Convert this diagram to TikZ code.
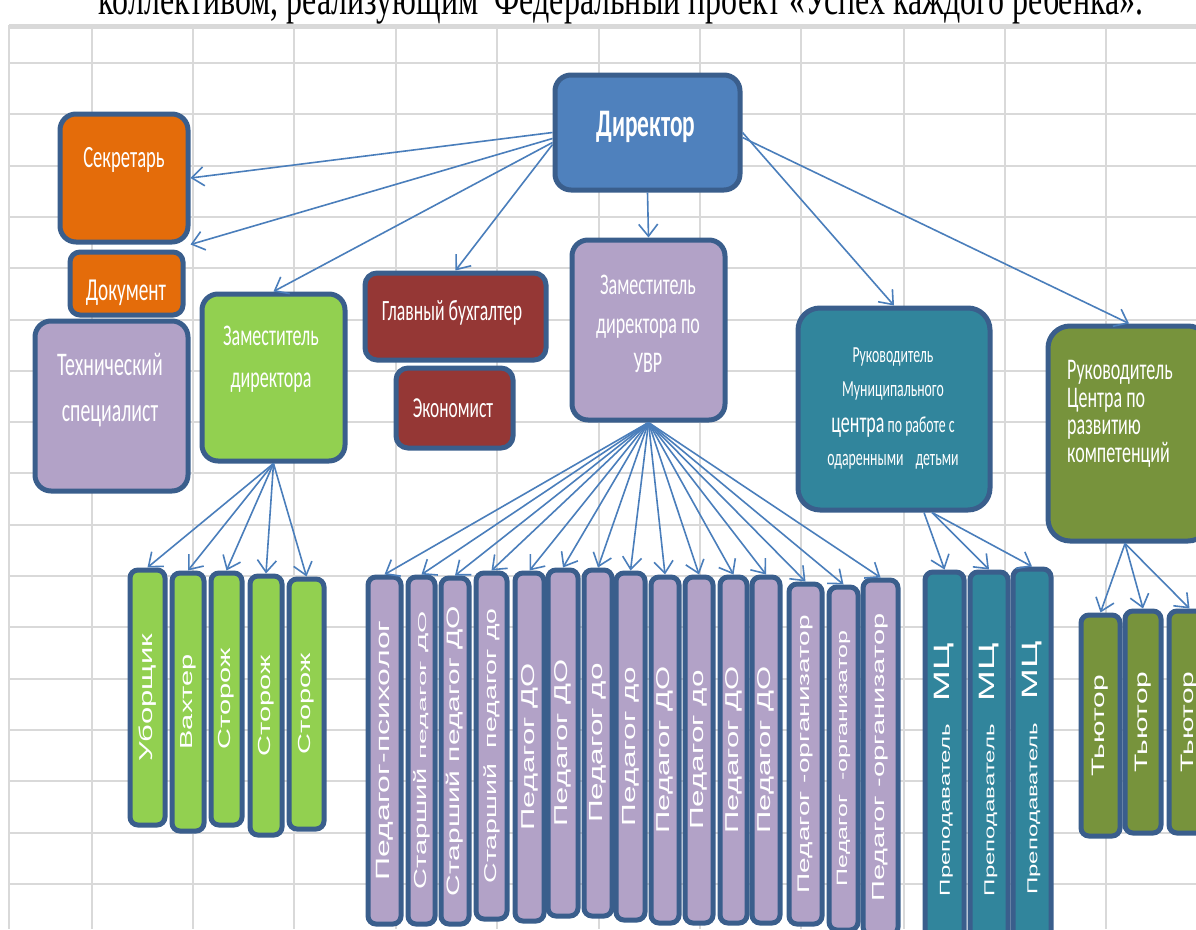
\documentclass[tikz,border=0pt]{standalone}
\usepackage{fontspec}
\setmainfont{Carlito}
\newfontfamily\cf[FakeStretch=0.6]{Carlito}
\newfontfamily\vf{Liberation Sans}
\newfontfamily\tf[FakeStretch=0.71]{Liberation Serif}
\usetikzlibrary{arrows.meta,fit}
\definecolor{bord}{HTML}{3A5E8C}
\definecolor{dirc}{HTML}{4F81BD}
\definecolor{orc}{HTML}{E46C0A}
\definecolor{purc}{HTML}{B2A2C7}
\definecolor{grc}{HTML}{92D050}
\definecolor{redc}{HTML}{953735}
\definecolor{tealc}{HTML}{31859C}
\definecolor{olc}{HTML}{77933C}
\definecolor{arrc}{HTML}{4A7EBB}
\definecolor{gridc}{HTML}{D9D9D9}
\newcommand\vlab[2]{\rotatebox{90}{\scalebox{1}[0.6]{\fontsize{#1}{#1}\selectfont\vf #2}}}
\tikzset{
  bigbox/.style={draw=bord,line width=5pt,rounded corners=16pt,inner sep=0pt},
  thinbox/.style={draw=bord,line width=5pt,rounded corners=8pt,inner sep=0pt},
  lab/.style={text=white,inner sep=0pt,align=center},
  vt/.style={text=white,inner sep=0pt},
  arr/.style={draw=arrc,line width=1.6pt,-{Straight Barb[length=12pt,width=19pt]}},
  gridline/.style={draw=gridc,line width=2pt}
}
\begin{document}
\begin{tikzpicture}[x=1pt,y=-1pt]
\useasboundingbox (0,0) rectangle (1196,929);
\fill[white] (0,0) rectangle (1196,929);
\node[font=\fontsize{45}{45}\selectfont\tf,anchor=base,inner sep=0pt] (title) at (621,14) {коллективом, реализующим \ Федеральный проект «Успех каждого ребенка».};
% grid
\foreach \x in {9,92,193,294,396,497,599,700,801,904,1005,1106}
  \draw[gridline] (\x,25) -- (\x,929);
\foreach \k in {0,...,16}
  \draw[gridline] (9,{63+51.3*\k}) -- (1196,{63+51.3*\k});
\draw[draw=gridc,line width=5pt] (9,26) -- (1196,26);
% top boxes
\node[bigbox,fill=dirc,fit={(555,75)(740,190)}] (dir) {};
\node[lab,font=\fontsize{39}{39}\selectfont\cf\bfseries] (dirT) at (646,127) {Директор};
\node[bigbox,fill=orc,fit={(60,114)(188,242)}] (sec) {};
\node[lab,font=\fontsize{31}{31}\selectfont\cf] (secT) at (124,160) {Секретарь};
\node[bigbox,rounded corners=10pt,fill=orc,fit={(70,252)(183,315)}] (doc) {};
\node[lab,font=\fontsize{32}{32}\selectfont\cf] (docT) at (126,293) {Документ};
\node[bigbox,fill=purc,fit={(35,321)(188,491)}] (tech) {};
\node[lab,font=\fontsize{33}{46}\selectfont\cf] (techT) at (110,390) {Технический\\специалист};
\node[bigbox,fill=grc,fit={(202,294)(345,461)}] (zam) {};
\node[lab,font=\fontsize{30}{42}\selectfont\cf] (zamT) at (271,359) {Заместитель\\директора};
\node[bigbox,rounded corners=12pt,fill=redc,fit={(365,273)(546,360)}] (glav) {};
\node[lab,font=\fontsize{29.5}{29.5}\selectfont\cf] (glavT) at (452,313) {Главный бухгалтер};
\node[bigbox,rounded corners=12pt,fill=redc,fit={(396,368)(513,448)}] (econ) {};
\node[lab,font=\fontsize{29}{29}\selectfont\cf] (econT) at (453,408) {Экономист};
\node[bigbox,fill=purc,fit={(572,240)(725,420)}] (uvr) {};
\node[lab,font=\fontsize{30}{39}\selectfont\cf] (uvrT) at (648,324) {Заместитель\\директора по\\УВР};
\node[bigbox,rounded corners=22pt,fill=tealc,fit={(798,308)(990,510)}] (mc) {};
\node[lab,font=\fontsize{23}{33}\selectfont\cf] (mcT) at (893,409) {Руководитель\\Муниципального\\[4pt]{\fontsize{30}{30}\selectfont центра} по работе с\\одаренными\hspace{12pt}детьми};
\node[bigbox,rounded corners=22pt,fill=olc,fit={(1048,326)(1210,541)}] (crk) {};
\node[lab,align=left,anchor=west,font=\fontsize{30}{27.5}\selectfont\cf] (crkT) at (1067,414) {Руководитель\\Центра по\\развитию\\компетенций};
% green column
\node[thinbox,fill=grc,fit={(130,570)(165,825)}] (g1) {};
\node[vt] (g1T) at (g1.center) {\vlab{31}{Уборщик}};
\node[thinbox,fill=grc,fit={(172,573)(204,831)}] (g2) {};
\node[vt] (g2T) at (g2.center) {\vlab{29}{Вахтер}};
\node[thinbox,fill=grc,fit={(211,573)(242,825)}] (g3) {};
\node[vt] (g3T) at (g3.center) {\vlab{29}{Сторож}};
\node[thinbox,fill=grc,fit={(250,576)(282,835)}] (g4) {};
\node[vt] (g4T) at (g4.center) {\vlab{29}{Сторож}};
\node[thinbox,fill=grc,fit={(289,579)(324,829)}] (g5) {};
\node[vt] (g5T) at (g5.center) {\vlab{29}{Сторож}};
% purple column
\node[thinbox,fill=purc,fit={(368,577)(401,924)}] (p1) {};
\node[vt] (p1T) at (p1.center) {\vlab{32}{Педагог-психолог}};
\node[thinbox,fill=purc,fit={(408,577)(435,924)}] (p2) {};
\node[vt] (p2T) at (p2.center) {\vlab{29}{Старший \scalebox{1.5}[1]{\fontsize{19}{19}\selectfont педагог ДО}}};
\node[thinbox,fill=purc,fit={(441,578)(469,924)}] (p3) {};
\node[vt] (p3T) at (p3.center) {\vlab{30}{Старший педагог ДО}};
\node[thinbox,fill=purc,fit={(476,573)(507,919)}] (p4) {};
\node[vt] (p4T) at (p4.center) {\vlab{28.5}{Старший \ педагог до}};
\node[thinbox,fill=purc,fit={(515,573)(544,921)}] (p5) {};
\node[vt] (p5T) at (p5.center) {\vlab{31}{Педагог ДО}};
\node[thinbox,fill=purc,fit={(548,570)(578,916)}] (p6) {};
\node[vt] (p6T) at (p6.center) {\vlab{31}{Педагог ДО}};
\node[thinbox,fill=purc,fit={(584,570)(612,916)}] (p7) {};
\node[vt] (p7T) at (p7.center) {\vlab{31.5}{Педагог до}};
\node[thinbox,fill=purc,fit={(616,573)(645,920)}] (p8) {};
\node[vt] (p8T) at (p8.center) {\vlab{31.5}{Педагог до}};
\node[thinbox,fill=purc,fit={(651,577)(679,923)}] (p9) {};
\node[vt] (p9T) at (p9.center) {\vlab{31}{Педагог ДО}};
\node[thinbox,fill=purc,fit={(685,577)(713,923)}] (p10) {};
\node[vt] (p10T) at (p10.center) {\vlab{31.5}{Педагог до}};
\node[thinbox,fill=purc,fit={(720,577)(747,923)}] (p11) {};
\node[vt] (p11T) at (p11.center) {\vlab{31}{Педагог ДО}};
\node[thinbox,fill=purc,fit={(752,577)(780,923)}] (p12) {};
\node[vt] (p12T) at (p12.center) {\vlab{31}{Педагог ДО}};
\node[thinbox,fill=purc,fit={(789,584)(822,924)}] (p13) {};
\node[vt] (p13T) at (p13.center) {\vlab{28}{Педагог -организатор}};
\node[thinbox,fill=purc,fit={(829,587)(858,930)}] (p14) {};
\node[vt] (p14T) at (p14.center) {\vlab{25}{Педагог \ -организатор}};
\node[thinbox,fill=purc,fit={(863,580)(898,935)}] (p15) {};
\node[vt] (p15T) at (p15.center) {\vlab{29}{Педагог -организатор}};
% teal column
\node[thinbox,fill=tealc,fit={(925,572)(964,945)}] (t1) {};
\node[vt] (t1T) at ([yshift=-11pt]t1.center) {\vlab{24}{Преподаватель\hspace{23pt}{\fontsize{37}{37}\selectfont МЦ}}};
\node[thinbox,fill=tealc,fit={(970,572)(1008,945)}] (t2) {};
\node[vt] (t2T) at ([yshift=-11pt]t2.center) {\vlab{24}{Преподаватель\hspace{23pt}{\fontsize{37}{37}\selectfont МЦ}}};
\node[thinbox,fill=tealc,fit={(1013,569)(1051,945)}] (t3) {};
\node[vt] (t3T) at ([yshift=-11pt]t3.center) {\vlab{24}{Преподаватель\hspace{23pt}{\fontsize{37}{37}\selectfont МЦ}}};
% olive column
\node[thinbox,fill=olc,fit={(1081,615)(1120,836)}] (u1) {};
\node[vt] (u1T) at (u1.center) {\vlab{30}{Тьютор}};
\node[thinbox,fill=olc,fit={(1125,611)(1161,833)}] (u2) {};
\node[vt] (u2T) at (u2.center) {\vlab{30}{Тьютор}};
\node[thinbox,fill=olc,fit={(1169,611)(1210,833)}] (u3) {};
\node[vt] (u3T) at (u3.center) {\vlab{30}{Тьютор}};
% connectors from director
\draw[arr] (dir.west) -- (sec.east);
\draw[arr] ([yshift=-6pt]dir.west) -- (sec.south east);
\draw[arr] ([yshift=-10pt]dir.west) -- (zam.north);
\draw[arr] ([yshift=-12pt]dir.west) -- (glav.north);
\draw[arr] (dir.south) -- (uvr.north);
\draw[arr] (dir.east) -- (mc.north);
\draw[arr] ([yshift=-5pt]dir.east) -- (crk.north);
\foreach \n in {g1,g2,g3,g4,g5}
  \draw[arr] (zam.south) -- (\n.north);
\foreach \n in {p1,p2,p3,p4,p5,p6,p7,p8,p9,p10,p11,p12,p13,p14,p15}
  \draw[arr] (uvr.south) -- (\n.north);
\draw[arr] ([xshift=30pt]mc.south) -- (t1.north);
\draw[arr] ([xshift=38pt]mc.south) -- (t2.north);
\draw[arr] ([xshift=38pt]mc.south) -- (t3.north);
\foreach \n in {u1,u2,u3}
  \draw[arr] ([xshift=-4pt]crk.south) -- (\n.north);
\end{tikzpicture}
\end{document}
